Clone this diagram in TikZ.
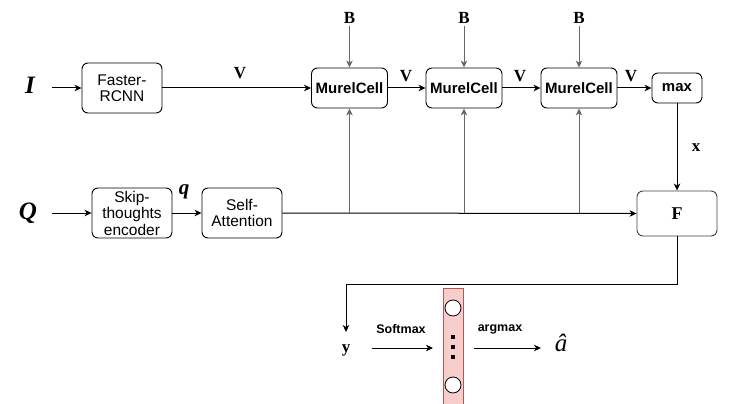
\documentclass[tikz,border=0pt]{standalone}
\usepackage{fontspec}
\setmainfont{Liberation Serif}
\setsansfont{Liberation Sans}
\usetikzlibrary{arrows.meta}
\definecolor{graycol}{RGB}{105,105,105}
\definecolor{pinkfill}{RGB}{248,206,204}
\definecolor{pinkdraw}{RGB}{184,84,80}
\tikzset{
  box/.style={draw=black, rounded corners=6pt, line width=0.9pt, align=center, inner sep=0pt,
    font=\sffamily\fontsize{15.5}{16.5}\selectfont},
  bbox/.style={box, font=\sffamily\bfseries\fontsize{15}{16}\selectfont},
  ar/.style={-{Stealth[length=7pt,width=6.5pt,inset=2pt]}, line width=1pt},
  gr/.style={draw=graycol},
  lab/.style={inner sep=0pt, font=\bfseries\fontsize{17}{17}\selectfont},
  biglab/.style={inner sep=0pt, font=\bfseries\itshape\fontsize{25}{25}\selectfont},
  sm/.style={inner sep=0pt, font=\sffamily\bfseries\fontsize{12.5}{14}\selectfont},
}
\begin{document}
\begin{tikzpicture}[x=1pt,y=-1pt]
\useasboundingbox (0,0) rectangle (742,404);
% boxes
\node[box, minimum width=80pt, minimum height=50pt] (faster) at (122,88) {Faster-\\RCNN};
\node[bbox, minimum width=76pt, minimum height=40pt] (m1) at (349.5,88) {MurelCell};
\node[bbox, minimum width=76pt, minimum height=40pt] (m2) at (464,88) {MurelCell};
\node[bbox, minimum width=76pt, minimum height=40pt] (m3) at (579,88) {MurelCell};
\node[bbox, minimum width=50pt, minimum height=30pt] (mx) at (677,88) {max};
\node[box, minimum width=80pt, minimum height=50pt] (skip) at (132,213) {Skip-\\thoughts\\encoder};
\node[box, minimum width=80pt, minimum height=50pt] (self) at (242,213) {Self-\\Attention};
\node[box, draw=black!75, minimum width=80pt, minimum height=45pt, font=\bfseries\fontsize{18}{18}\selectfont] (F) at (677,213.5) {F};
% labels
\node[biglab] (I) at (30,85) {I};
\node[biglab] (Q) at (28,213) {Q};
\node[lab] (v0) at (240,73) {V};
\node[lab] (v1) at (406,76) {V};
\node[lab] (v2) at (520,76) {V};
\node[lab] (v3) at (631,76) {V};
\node[lab] (b1) at (349.5,18) {B};
\node[lab] (b2) at (464,18) {B};
\node[lab] (b3) at (579,18) {B};
\node[lab] (xl) at (696,148) {x};
\node[inner sep=0pt, font=\bfseries\itshape\fontsize{21}{21}\selectfont] (ql) at (184,192) {q};
\node[lab] (yl) at (346,350) {y};
\node[sm] (soft) at (401,329) {Softmax};
\node[sm] (argm) at (500,329) {argmax};
\node[inner sep=0pt, font=\itshape\fontsize{25}{25}\selectfont] (ahat) at (561,343) {\^{a}};
% output vector
\node[draw=pinkdraw, fill=pinkfill, line width=0.9pt, minimum width=20pt, minimum height=116pt, inner sep=0pt] (vec) at (453,346) {};
\node[draw=black, fill=white, circle, minimum size=16pt, inner sep=0pt, line width=0.8pt] (c1) at (453,308) {};
\node[draw=black, fill=white, circle, minimum size=16pt, inner sep=0pt, line width=0.8pt] (c2) at (453,385) {};
\foreach \yy/\nm in {337/d1,347/d2,357/d3}
  \node[fill=black, minimum size=4.5pt, inner sep=0pt] (\nm) at (453,\yy) {};
% coordinates
\coordinate (Iin) at (52,88);
\coordinate (Qin) at (52,213);
\coordinate (j1) at (349.5,213);
\coordinate (j2) at (464,213);
\coordinate (j3) at (579,213);
\coordinate (turn) at (677,284);
\coordinate (ytop) at (346,332);
\coordinate (s0) at (372,348);
\coordinate (s1) at (433,348);
\coordinate (a0) at (474,348);
\coordinate (a1) at (541,348);
% connectors
\draw[ar] (Iin) -- (faster.west);
\draw[ar] (faster.east) -- (m1.west);
\draw[ar] (m1.east) -- (m2.west);
\draw[ar] (m2.east) -- (m3.west);
\draw[ar] (m3.east) -- (mx.west);
\draw[ar, gr] (b1.south) ++(0,2) -- (m1.north);
\draw[ar, gr] (b2.south) ++(0,2) -- (m2.north);
\draw[ar, gr] (b3.south) ++(0,2) -- (m3.north);
\draw[ar] (Qin) -- (skip.west);
\draw[ar] (skip.east) -- (self.west);
\draw[ar] (self.east) -- (F.west);
\draw[ar, gr] (j1) -- (m1.south);
\draw[ar, gr] (j2) -- (m2.south);
\draw[ar, gr] (j3) -- (m3.south);
\draw[ar] (mx.south) -- (F.north);
\draw[ar] (F.south) -- (turn) -| (ytop);
\draw[ar] (s0) -- (s1);
\draw[ar] (a0) -- (a1);
\end{tikzpicture}
\end{document}
